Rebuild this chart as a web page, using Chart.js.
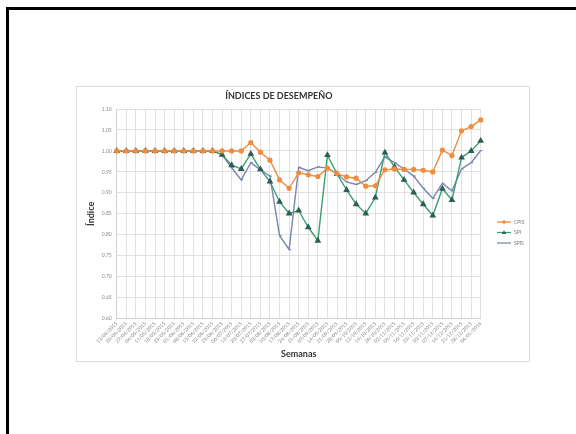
<!DOCTYPE html>
<html>
<head>
<meta charset="utf-8">
<script src="https://cdn.jsdelivr.net/npm/chart.js@4"></script>
<style>
  html, body { margin: 0; padding: 0; background: #ffffff; }
  body { width: 576px; height: 434px; position: relative; overflow: hidden; }
  #frame { position: absolute; left: 6px; top: 7px; width: 700px; height: 600px;
           border-left: 3px solid #000; border-top: 3px solid #000; }
  #box { position: absolute; left: 76px; top: 86px; width: 452px; height: 274px;
         border: 1px solid #dcdcdc; background: #fff; }
  #c { display: block; }
</style>
</head>
<body>
<div id="frame"></div>
<div id="box"><canvas id="c" width="452" height="274"></canvas></div>
<script>
const chartTitle = "ÍNDICES DE DESEMPEÑO";
const xTitle = "Semanas";
const yTitle = "Índice";

const categories = [
  "13/04/2015","20/04/2015","27/04/2015","04/05/2015","11/05/2015","18/05/2015",
  "25/05/2015","01/06/2015","08/06/2015","15/06/2015","22/06/2015","29/06/2015",
  "06/07/2015","13/07/2015","20/07/2015","27/07/2015","03/08/2015","10/08/2015",
  "17/08/2015","24/08/2015","31/08/2015","07/09/2015","14/09/2015","21/09/2015",
  "28/09/2015","05/10/2015","12/10/2015","19/10/2015","26/10/2015","02/11/2015",
  "09/11/2015","16/11/2015","23/11/2015","30/11/2015","07/12/2015","14/12/2015",
  "21/12/2015","28/12/2015","04/01/2016"
];

const seriesNames = ["CPIS", "SPI", "SPIS"];

const cpiValues = [
  1.00,1.00,1.00,1.00,1.00,1.00,1.00,1.00,1.00,1.00,1.00,
  1.000,1.000,1.000,1.020,0.997,0.978,0.931,0.911,0.948,0.943,0.939,
  0.959,0.946,0.938,0.935,0.916,0.917,0.955,0.957,0.956,0.956,0.954,
  0.950,1.002,0.989,1.048,1.058,1.074
];

const spiValues = [
  1.00,1.00,1.00,1.00,1.00,1.00,1.00,1.00,1.00,1.00,1.00,
  0.991,0.966,0.957,0.993,0.956,0.927,0.879,0.851,0.858,0.818,0.786,
  0.990,0.945,0.907,0.873,0.851,0.889,0.996,0.962,0.931,0.901,0.873,
  0.846,0.910,0.883,0.984,1.000,1.024
];

const spsValues = [
  1.00,1.00,1.00,1.00,1.00,1.00,1.00,1.00,1.00,1.00,1.00,
  0.991,0.960,0.931,0.972,0.955,0.940,0.798,0.765,0.961,0.953,0.962,
  0.959,0.945,0.926,0.920,0.929,0.949,0.986,0.972,0.957,0.940,0.911,
  0.887,0.923,0.905,0.957,0.972,1.001
];

const yMin = 0.60, yMax = 1.10, yStep = 0.05;

const FONT = "Lato, 'Open Sans', 'DejaVu Sans', sans-serif";

const customLegend = {
  id: 'customLegend',
  afterDraw(chart) {
    const ctx = chart.ctx;
    const x0 = 420, x1 = 434, tx = 437;
    const ys = [135, 145.5, 156];
    chart.data.datasets.forEach((ds, i) => {
      const y = ys[i];
      ctx.save();
      ctx.strokeStyle = ds.borderColor;
      ctx.lineWidth = 1.3;
      ctx.beginPath(); ctx.moveTo(x0, y); ctx.lineTo(x1, y); ctx.stroke();
      const mx = (x0 + x1) / 2;
      ctx.fillStyle = ds.pointBackgroundColor;
      if (ds.pointStyle === 'triangle') {
        ctx.beginPath(); ctx.moveTo(mx, y - 2.2); ctx.lineTo(mx + 2.2, y + 1.6); ctx.lineTo(mx - 2.2, y + 1.6); ctx.closePath(); ctx.fill();
      } else if (ds.pointStyle === 'circle') {
        ctx.beginPath(); ctx.arc(mx, y, 1.8, 0, Math.PI * 2); ctx.fill();
      }
      ctx.fillStyle = '#777';
      ctx.font = "5px " + FONT;
      ctx.textBaseline = 'middle';
      ctx.textAlign = 'left';
      ctx.fillText(ds.label, tx, y);
      ctx.restore();
    });
  }
};

new Chart(document.getElementById('c'), {
  type: 'line',
  data: {
    labels: categories,
    datasets: [
      {
        label: seriesNames[0], data: cpiValues,
        borderColor: '#F08C3E', backgroundColor: '#F08C3E',
        pointBackgroundColor: '#F08C3E', pointBorderColor: '#F08C3E',
        pointStyle: 'circle', pointRadius: 1.9, borderWidth: 1.4, tension: 0
      },
      {
        label: seriesNames[1], data: spiValues,
        borderColor: '#3E9E6E', backgroundColor: '#2D5E57',
        pointBackgroundColor: '#2D5E57', pointBorderColor: '#2D5E57',
        pointStyle: 'triangle', pointRadius: 2.5, borderWidth: 1.4, tension: 0
      },
      {
        label: seriesNames[2], data: spsValues,
        borderColor: '#7A86B0', backgroundColor: '#7A86B0',
        pointBackgroundColor: '#7A86B0', pointBorderColor: '#7A86B0',
        pointStyle: 'dash', pointRadius: 2, pointBorderWidth: 1.2, borderWidth: 1.4, tension: 0
      }
    ]
  },
  options: {
    responsive: false,
    animation: false,
    devicePixelRatio: 1,
    layout: { padding: { left: 0, right: 48.3, top: 0, bottom: 0 } },
    plugins: {
      legend: { display: false },
      tooltip: { enabled: false },
      title: {
        display: true, text: chartTitle, color: '#333',
        font: { family: FONT, size: 9, weight: 'bold', lineHeight: 1.2 },
        padding: { top: 3.3, bottom: 7.9 }
      }
    },
    scales: {
      x: {
        offset: false,
        grid: { color: '#d9d9d9', lineWidth: 0.8, drawTicks: false },
        border: { color: '#d0d0d0' },
        ticks: {
          autoSkip: false, maxRotation: 45, minRotation: 45, padding: 2,
          color: '#888', font: { family: FONT, size: 5 }
        },
        title: {
          display: true, text: xTitle, color: '#333',
          font: { family: FONT, size: 9, weight: 'bold', lineHeight: 1.2 },
          padding: { top: 0, bottom: 1.6 }
        },
        afterFit(s) { s.height = 42.3; }
      },
      y: {
        min: yMin, max: yMax,
        grid: { color: '#d9d9d9', lineWidth: 0.8, drawTicks: false },
        border: { color: '#d0d0d0' },
        ticks: {
          stepSize: yStep, padding: 5, color: '#888',
          font: { family: FONT, size: 5 },
          callback: v => Number(v).toFixed(2)
        },
        title: {
          display: true, text: yTitle, color: '#333',
          font: { family: FONT, size: 9, weight: 'bold', lineHeight: 1.2 },
          padding: { top: 8.6, bottom: 0 }
        },
        afterFit(s) { s.width = 39.7; }
      }
    }
  },
  plugins: [customLegend]
});
</script>
</body>
</html>
